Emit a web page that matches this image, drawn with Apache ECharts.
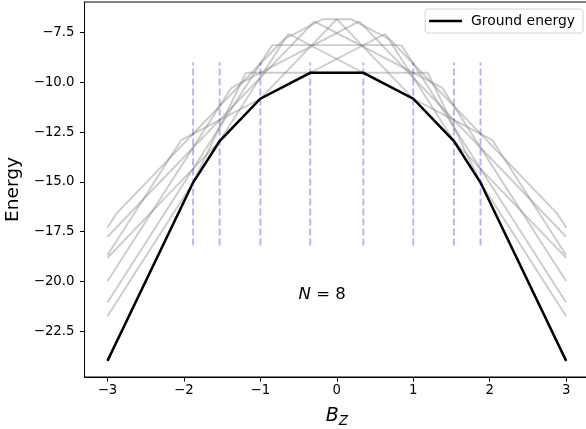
<!DOCTYPE html>
<html>
<head>
<meta charset="utf-8">
<script src="https://cdn.jsdelivr.net/npm/echarts@6/dist/echarts.min.js"></script>
<style>
html,body{margin:0;padding:0;background:#fff;}
#chart{width:586px;height:429px;}
</style>
</head>
<body>
<div id="chart"></div>
<script>
// ---- data ----
const xTicks = [-3, -2, -1, 0, 1, 2, 3];
const yTicks = [-22.5, -20, -17.5, -15, -12.5, -10, -7.5];

// ground energy (black polyline)
const groundB = [-3, -1.8795, -1.532, -1, -0.3475, 0.3475, 1, 1.532, 1.8795, 3];
const groundE = [-24, -15.036, -12.951, -10.823, -9.518, -9.518, -10.823, -12.951, -15.036, -24];

// level crossings of the ground state (blue dashed lines)
const crossingB = [-1.8795, -1.532, -1.0, -0.3475, 0.3475, 1.0, 1.532, 1.8795];
const dashRangeE = [-18.2, -9.0];

// low-lying excited levels (grey), as straight pieces [B1, E1, B2, E2]
const excitedSegments = [
  [-1.190, -9.518, 1.190, -9.518],
  [-0.837, -8.128, 0.837, -8.128],
  [-0.185, -6.823, 0.185, -6.823],
  [-0.627, -7.570, 2.032, -12.887],
  [-2.032, -12.887, 0.627, -7.570],
  [-0.293, -6.932, 1.380, -10.277],
  [-1.380, -10.277, 0.293, -6.932],
  [0.185, -6.823, 0.695, -7.844],
  [-0.695, -7.844, -0.185, -6.823],
  [0.837, -8.128, 0.848, -8.149],
  [-0.848, -8.149, -0.837, -8.128],
  [0, -6.823, 3, -18.823],
  [-3, -18.823, 0, -6.823],
  [0.293, -6.932, 3, -17.759],
  [-3, -17.759, -0.293, -6.932],
  [0.627, -7.570, 0.653, -7.674],
  [-0.653, -7.674, -0.627, -7.570],
  [0.695, -7.844, 2.880, -16.582],
  [-2.880, -16.582, -0.695, -7.844],
  [0.653, -7.674, 3, -21.759],
  [-3, -21.759, -0.653, -7.674],
  [0.848, -8.149, 3, -21.064],
  [-3, -21.064, -0.848, -8.149],
  [1.380, -10.277, 3, -20.000],
  [-3, -20.000, -1.380, -10.277],
  [2.032, -12.887, 3, -18.695],
  [-3, -18.695, -2.032, -12.887],
  [2.880, -16.582, 3, -17.305],
  [-3, -17.305, -2.880, -16.582],
  [1.190, -9.518, 3, -24.000],
  [-3, -24.000, -1.190, -9.518]
];

const annotationPos = [-0.5, -21.0];

// ---- chart ----
const FONT = 'DejaVu Sans';
const minus = s => String(s).replace('-', '\u2212');
const chart = echarts.init(document.getElementById('chart'), null, {renderer: 'canvas'});

const series = [];
excitedSegments.forEach((s, i) => {
  series.push({
    type: 'line', name: 'excited' + i,
    data: [[s[0], s[1]], [s[2], s[3]]],
    symbol: 'none', silent: true, animation: false,
    lineStyle: {color: 'rgba(128,128,128,0.4)', width: 1.9, cap: 'butt'},
    z: 2
  });
});
series.push({
  type: 'line', name: 'Ground energy',
  data: groundB.map((b, i) => [b, groundE[i]]),
  symbol: 'none', animation: false,
  lineStyle: {color: '#000', width: 2.5, join: 'miter'},
  itemStyle: {color: '#000'},
  z: 3
});
crossingB.forEach((b, i) => {
  series.push({
    type: 'line', name: 'cross' + i,
    data: [[b, dashRangeE[0]], [b, dashRangeE[1]]],
    symbol: 'none', silent: true, animation: false,
    lineStyle: {color: 'rgba(0,0,255,0.3)', width: 1.9, type: [7, 3], cap: 'butt'},
    z: 4
  });
});

chart.setOption({
  animation: false,
  backgroundColor: '#fff',
  grid: {left: 84.5, top: 2, width: 504.6, height: 375, show: true, borderColor: '#000', borderWidth: 1,
         containLabel: false, outerBoundsMode: 'none'},
  legend: {
    data: ['Ground energy'],
    right: 3, top: 9,
    orient: 'horizontal',
    icon: 'rect', itemWidth: 33, itemHeight: 2.5, itemGap: 8,
    padding: [5, 8, 5, 4],
    borderColor: '#d3d3d3', borderWidth: 1, borderRadius: 3,
    backgroundColor: 'rgba(255,255,255,0.8)',
    textStyle: {fontFamily: FONT, fontSize: 13.9, color: '#000', padding: [0, 0, 0, 4]}
  },
  xAxis: {
    type: 'value', min: -3.3, max: 3.3,
    axisLine: {show: true, onZero: false, lineStyle: {color: '#000', width: 1}},
    axisTick: {show: true, length: 4.5, customValues: xTicks, lineStyle: {color: '#000', width: 1}},
    axisLabel: {customValues: xTicks, formatter: v => minus(v), fontFamily: FONT, fontSize: 13.3, color: '#000', margin: 7},
    splitLine: {show: false},
    name: '{b|B}{s|Z}', nameLocation: 'middle', nameGap: 28,
    nameTextStyle: {
      rich: {
        b: {fontFamily: FONT, fontStyle: 'italic', fontSize: 19, color: '#000'},
        s: {fontFamily: FONT, fontStyle: 'italic', fontSize: 13.5, color: '#000', padding: [9, 0, 0, 0]}
      }
    }
  },
  yAxis: {
    type: 'value', min: -24.81, max: -5.96,
    axisLine: {show: true, onZero: false, lineStyle: {color: '#000', width: 1}},
    axisTick: {show: true, length: 4.5, customValues: yTicks, lineStyle: {color: '#000', width: 1}},
    axisLabel: {customValues: yTicks, formatter: v => minus(Number(v).toFixed(1)), fontFamily: FONT, fontSize: 13.3, color: '#000', margin: 10},
    splitLine: {show: false},
    name: 'Energy', nameLocation: 'middle', nameGap: 60, nameRotate: 90,
    nameTextStyle: {fontFamily: FONT, fontSize: 18.5, color: '#000'}
  },
  series: series
});

const p = chart.convertToPixel({gridIndex: 0}, annotationPos);
chart.setOption({
  graphic: [{
    type: 'text', x: p[0], y: p[1] - 6, silent: true, z: 10,
    style: {
      text: '{i|N}{n| = 8}',
      verticalAlign: 'middle', align: 'left',
      rich: {
        i: {fontFamily: FONT, fontStyle: 'italic', fontSize: 16.5, fill: '#000', color: '#000'},
        n: {fontFamily: FONT, fontSize: 16.5, fill: '#000', color: '#000'}
      }
    }
  }]
});
</script>
</body>
</html>
